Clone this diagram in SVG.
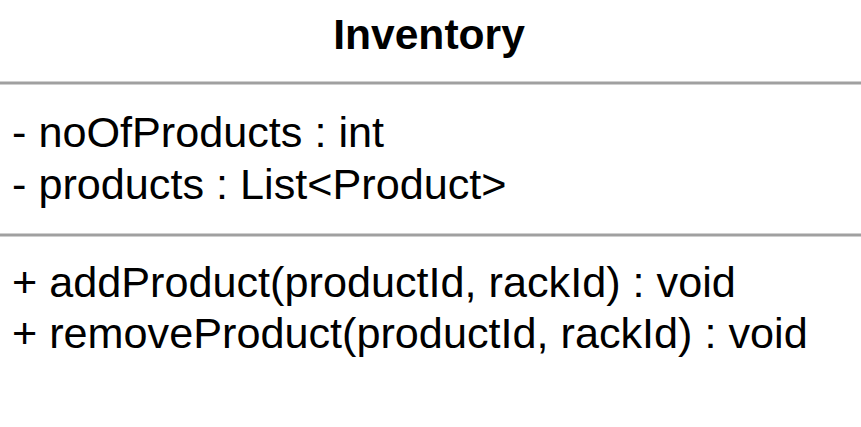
<svg xmlns="http://www.w3.org/2000/svg" width="861" height="427" viewBox="0 0 861 427">
<style>
.t{font-family:"Liberation Sans",Arial,sans-serif;fill:#000}
.title{font-size:42.6px;font-weight:bold}
.m{font-size:43.2px}
.sep{stroke:#a0a0a0;stroke-width:3}
</style>
<rect width="861" height="427" fill="#fff"/>
<g id="inventory">
<text class="t title" x="429" y="49" text-anchor="middle">Inventory</text>
<line class="sep" x1="0" y1="83" x2="861" y2="83"/>
<text class="t m" x="12" y="147">- noOfProducts : int</text>
<text class="t m" x="12" y="199">- products : List&lt;Product&gt;</text>
<line class="sep" x1="0" y1="235" x2="861" y2="235"/>
<text class="t m" x="12" y="297">+ addProduct(productId, rackId) : void</text>
<text class="t m" x="12" y="348">+ removeProduct(productId, rackId) : void</text>
</g>
<g id="connectors"></g>
</svg>
